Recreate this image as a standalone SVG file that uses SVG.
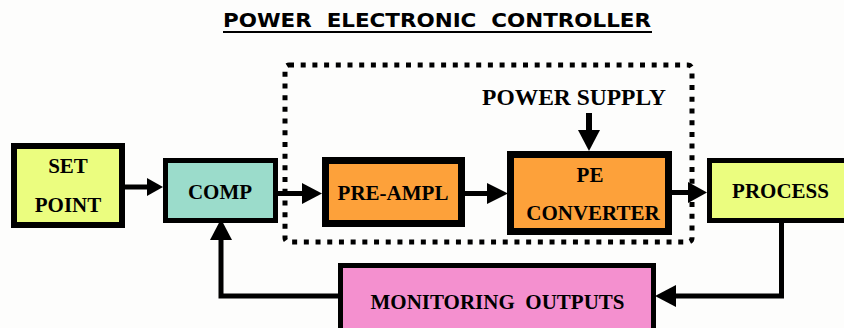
<svg xmlns="http://www.w3.org/2000/svg" width="844" height="328" viewBox="0 0 844 328">
<style>
.box{stroke:#000;}
.t{font-family:"Liberation Serif","Times New Roman",serif;font-weight:bold;font-size:21px;fill:#000;text-anchor:middle;}
.ln{fill:none;stroke:#000;stroke-width:5;stroke-linejoin:miter;}
.ah{fill:#000;}
.title{font-family:"DejaVu Sans",Verdana,sans-serif;font-weight:bold;font-size:19.5px;fill:#000;}
</style>
<rect width="844" height="328" fill="#fdfdfc"/>
<g id="title">
<text class="title" x="223" y="27" textLength="428" lengthAdjust="spacingAndGlyphs" xml:space="preserve">POWER  ELECTRONIC  CONTROLLER</text>
<line x1="223" y1="32" x2="652" y2="32" stroke="#000" stroke-width="2"/>
</g>
<g id="pe-controller">
<rect x="285" y="65" width="407" height="177" rx="4" fill="none" stroke="#000" stroke-width="5" stroke-dasharray="5 6.7"/>
</g>
<g id="set-point">
<rect class="box" x="14" y="146" width="108" height="79" fill="#ebfd7f" stroke-width="6"/>
<text class="t" x="68" y="173">SET</text>
<text class="t" x="68" y="212">POINT</text>
</g>
<g id="comp">
<rect class="box" x="165.5" y="160.5" width="110" height="60" fill="#9bdccb" stroke-width="5"/>
<text class="t" x="220" y="199">COMP</text>
</g>
<g id="pre-ampl">
<rect class="box" x="325.5" y="160.5" width="136" height="63" fill="#fda13a" stroke-width="7"/>
<text class="t" x="393" y="200">PRE-AMPL</text>
</g>
<g id="pe-converter">
<rect class="box" x="510.5" y="154.5" width="158" height="77" fill="#fda13a" stroke-width="7"/>
<text class="t" x="590" y="182">PE</text>
<text class="t" x="593" y="220">CONVERTER</text>
</g>
<g id="power-supply">
<text class="t" x="574" y="105" style="font-size:23.5px">POWER SUPPLY</text>
</g>
<g id="process">
<rect class="box" x="709.5" y="160.5" width="160" height="60" fill="#ebfd7f" stroke-width="5"/>
<text class="t" x="780.5" y="198">PROCESS</text>
</g>
<g id="monitoring-outputs">
<rect class="box" x="340.5" y="265.5" width="313" height="80" fill="#f490cf" stroke-width="5"/>
<text class="t" x="497.5" y="309" xml:space="preserve">MONITORING  OUTPUTS</text>
</g>
<g id="connectors">
<line class="ln" x1="125" y1="187" x2="148" y2="187"/>
<polygon class="ah" points="147,178 163,187 147,196"/>
<line class="ln" x1="278" y1="193.5" x2="303" y2="193.5"/>
<polygon class="ah" points="302,183 322,193.5 302,204"/>
<line class="ln" x1="465" y1="193.5" x2="488" y2="193.5"/>
<polygon class="ah" points="487,183 508,193.5 487,204"/>
<line class="ln" x1="672" y1="192.5" x2="689" y2="192.5"/>
<polygon class="ah" points="688,182 707,192.5 688,203"/>
<line class="ln" x1="589" y1="113" x2="589" y2="131" style="stroke-width:6"/>
<polygon class="ah" points="578,130 600,130 589,151"/>
<polyline class="ln" points="781.5,223 781.5,296 675,296"/>
<polygon class="ah" points="676,285 676,307 655,296"/>
<polyline class="ln" points="338,296 221,296 221,239"/>
<polygon class="ah" points="210,240 232,240 221,219"/>
</g>
</svg>
